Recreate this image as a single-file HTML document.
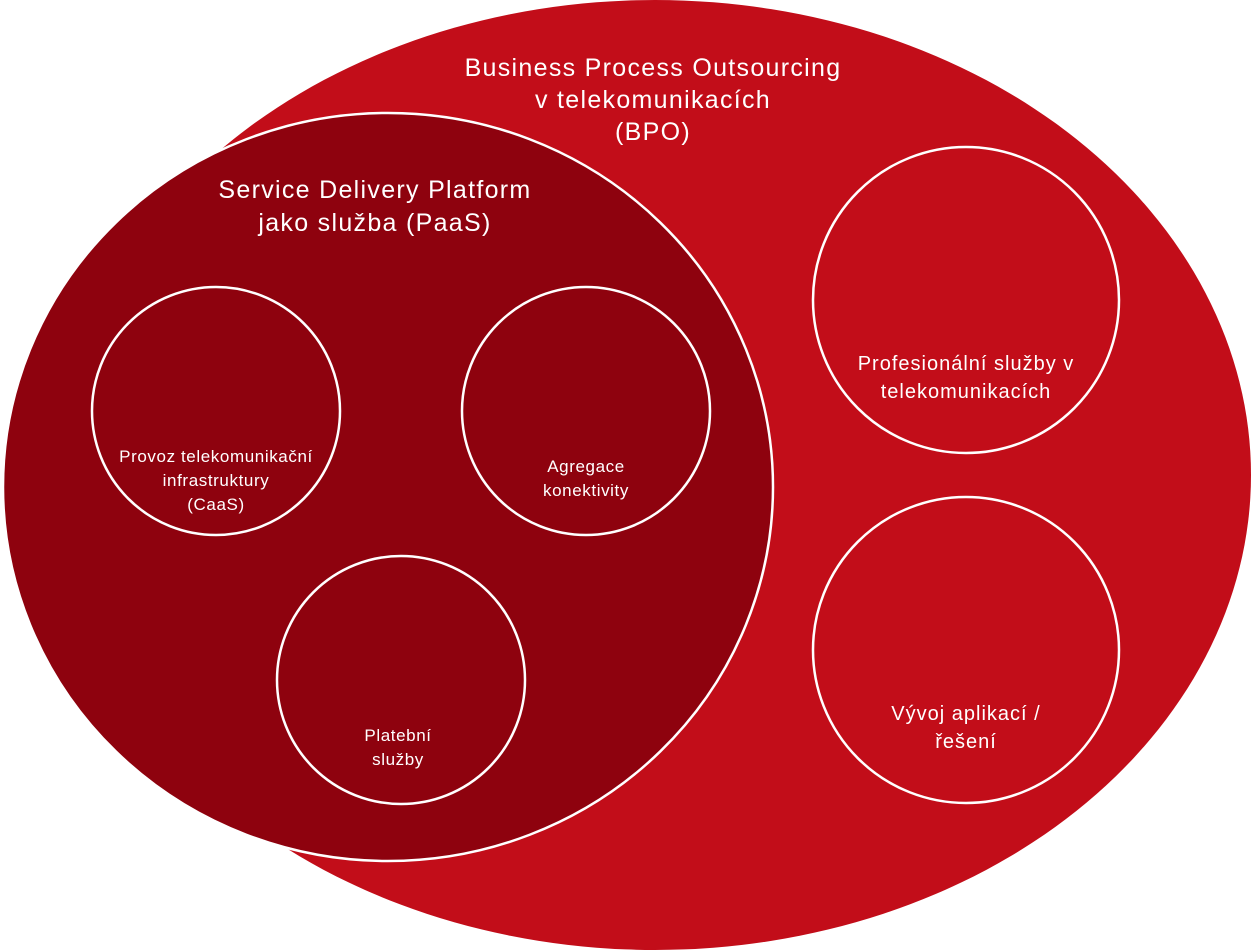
<!DOCTYPE html>
<html><head><meta charset="utf-8"><style>
html,body{margin:0;padding:0;background:#fff;}
svg{display:block}
text{font-family:"Liberation Sans",sans-serif;fill:#fff;text-anchor:middle}
</style></head><body>
<svg width="1251" height="950" viewBox="0 0 1251 950">
<ellipse cx="655" cy="475" rx="596" ry="475" fill="#c20d19"/>
<ellipse cx="388" cy="487" rx="385" ry="374" fill="#8e020e" stroke="#fff" stroke-width="2.5"/>
<g fill="none" stroke="#fff" stroke-width="2.5">
<circle cx="216" cy="411" r="124"/>
<circle cx="586" cy="411" r="124"/>
<circle cx="401" cy="680" r="124"/>
<circle cx="966" cy="300" r="153"/>
<circle cx="966" cy="650" r="153"/>
</g>
<g font-size="25" letter-spacing="1.3">
<text x="653" y="76">Business Process Outsourcing</text>
<text x="653" y="108">v telekomunikacích</text>
<text x="653" y="140">(BPO)</text>
<text x="375" y="198">Service Delivery Platform</text>
<text x="375" y="231">jako služba (PaaS)</text>
</g>
<g font-size="20" letter-spacing="1">
<text x="966" y="370">Profesionální služby v</text>
<text x="966" y="398">telekomunikacích</text>
<text x="966" y="720">Vývoj aplikací /</text>
<text x="966" y="748">řešení</text>
</g>
<g font-size="17" letter-spacing="0.6">
<text x="216" y="462">Provoz telekomunikační</text>
<text x="216" y="486">infrastruktury</text>
<text x="216" y="510">(CaaS)</text>
<text x="586" y="472">Agregace</text>
<text x="586" y="496">konektivity</text>
<text x="398" y="741">Platební</text>
<text x="398" y="765">služby</text>
</g>
</svg>
</body></html>
